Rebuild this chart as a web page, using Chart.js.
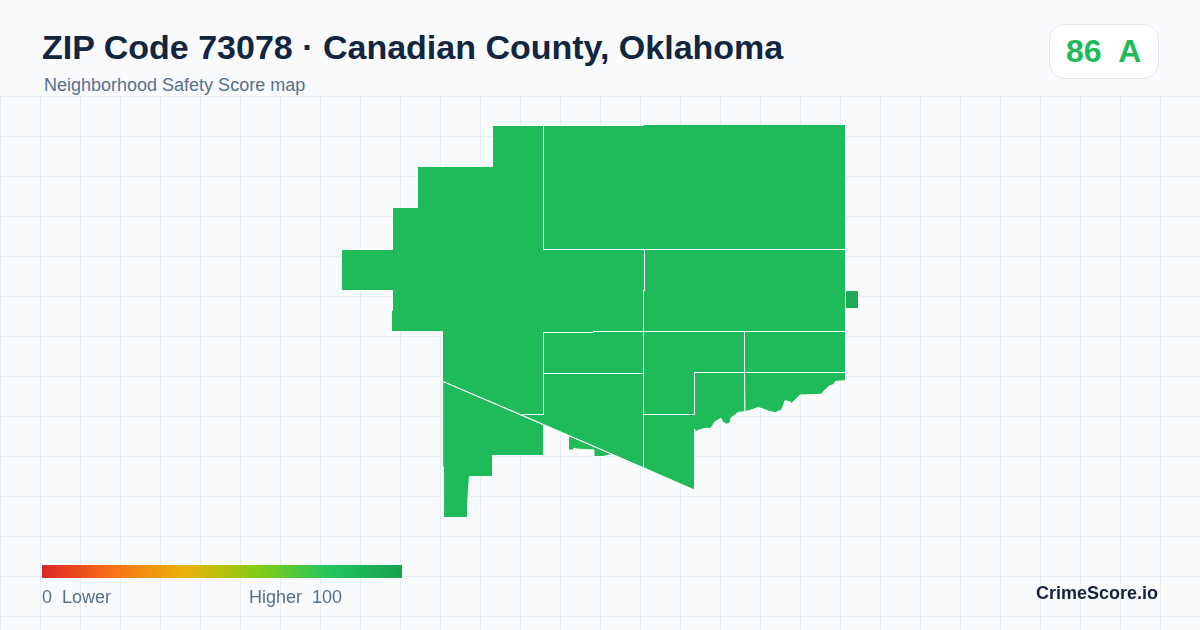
<!DOCTYPE html>
<html>
<head>
<meta charset="utf-8">
<title>ZIP Code 73078</title>
<script src="https://cdn.jsdelivr.net/npm/chart.js@4"></script>
<style>
	html, body { margin: 0; padding: 0; width: 1200px; height: 630px; overflow: hidden; background: #f8fafc; font-family: "Liberation Sans", Arial, sans-serif; }
	#mapBox { position: absolute; left: 0; top: 96px; width: 1200px; height: 534px; }
	.txt { position: absolute; white-space: pre; line-height: 1; }
	#title { left: 42px; top: 30px; font-size: 34px; font-weight: bold; color: #12263f; }
	#subtitle { left: 44px; top: 76px; font-size: 18px; color: #56708f; }
	#badge { position: absolute; left: 1049px; top: 24px; width: 108px; height: 53px; background: #fff; border: 1px solid #e2e8f0; border-radius: 16px; }
	#badgeText { left: 1066px; top: 35px; font-size: 32px; font-weight: bold; color: #1fbb59; }
	#scaleBar { position: absolute; left: 42px; top: 565px; width: 360px; height: 13px; }
	#scaleLow { left: 42px; top: 588px; font-size: 18px; color: #56708f; }
	#scaleHigh { left: 249px; top: 588px; font-size: 18px; color: #56708f; }
	#brand { right: 42px; top: 584px; font-size: 18px; font-weight: bold; color: #14233c; }
</style>
</head>
<body>
<div id="mapBox"><canvas id="map" width="1200" height="534"></canvas></div>
<div class="txt" id="title"></div>
<div class="txt" id="subtitle"></div>
<div id="badge"></div>
<div class="txt" id="badgeText"></div>
<div id="scaleBar"></div>
<div class="txt" id="scaleLow"></div>
<div class="txt" id="scaleHigh"></div>
<div class="txt" id="brand"></div>
<script>
var titleText = 'ZIP Code 73078 · Canadian County, Oklahoma';
var subtitleText = 'Neighborhood Safety Score map';
var scoreText = '86  A';
var lowLabel = '0  Lower';
var highLabel = 'Higher  100';
var brandText = 'CrimeScore.io';
var scaleColors = ['#dc2626', '#f97316', '#eab308', '#84cc16', '#22c55e', '#16a34a'];

// block outlines in map units, [east, north]
var blockWest = [[4.925,5.045],[5.435,5.045],[5.435,3.805],[6.445,3.805],[6.445,3.395],[6.435,3.395],[6.435,2.985],[5.935,2.985],[5.935,2.975],[5.435,2.975],[5.435,2.155],[5.205,2.155],[4.427,2.487],[4.425,2.985],[3.915,2.985],[3.915,3.195],[3.925,3.195],[3.925,3.395],[3.415,3.395],[3.415,3.805],[3.925,3.805],[3.925,4.225],[4.175,4.225],[4.175,4.635],[4.925,4.635],[4.925,5.045]];
var blockNorth = [[5.435,5.045],[6.435,5.045],[6.435,5.055],[8.455,5.055],[8.455,3.805],[5.435,3.805],[5.435,5.045]];
var blockEast = [[6.445,3.805],[8.455,3.805],[8.455,2.985],[6.435,2.985],[6.435,3.395],[6.445,3.395],[6.445,3.805]];
var blockCentreUpper = [[5.435,2.975],[5.935,2.975],[5.935,2.985],[6.435,2.985],[6.435,2.565],[5.435,2.565],[5.435,2.975]];
var blockCentreLower = [[5.435,2.565],[6.435,2.565],[6.435,1.622],[5.205,2.155],[5.435,2.155],[5.435,2.565]];
var blockSouthWest = [[4.427,2.487],[5.435,2.052],[5.435,1.745],[4.925,1.745],[4.925,1.535],[4.695,1.535],[4.685,1.42],[4.675,1.23],[4.675,1.125],[4.435,1.125],[4.435,1.63],[4.425,1.63],[4.427,2.487]];
var blockSliver = [[5.685,1.945],[6.125,1.755],[6.03,1.735],[5.94,1.735],[5.94,1.80],[5.77,1.81],[5.74,1.82],[5.74,1.80],[5.685,1.80],[5.685,1.945]];
var blockMiddle = [[6.435,2.985],[7.445,2.985],[7.445,2.575],[6.945,2.575],[6.945,2.155],[6.435,2.155],[6.435,2.985]];
var blockNorthEast = [[7.445,2.985],[8.455,2.985],[8.455,2.575],[7.445,2.575],[7.445,2.985]];
var blockRiverEast = [[7.445,2.575],[8.455,2.575],[8.455,2.493],[8.357,2.487],[8.333,2.453],[8.29,2.44],[8.21,2.357],[8.00,2.35],[7.917,2.267],[7.90,2.283],[7.85,2.293],[7.817,2.20],[7.75,2.173],[7.683,2.19],[7.583,2.227],[7.533,2.207],[7.45,2.183],[7.445,2.575]];
var blockRiverSouth = [[6.945,2.575],[7.445,2.575],[7.45,2.183],[7.383,2.177],[7.307,2.117],[7.30,2.073],[7.267,2.057],[7.223,2.083],[7.21,2.117],[7.15,2.083],[7.11,2.017],[7.05,2.017],[6.99,2.00],[6.96,1.983],[6.945,2.007],[6.945,1.40],[6.435,1.622],[6.435,2.155],[6.945,2.155],[6.945,2.575]];
var blockIsland = [[8.455,3.395],[8.585,3.395],[8.585,3.215],[8.455,3.215],[8.455,3.395]];

var mapBlocks = [blockWest, blockNorth, blockEast, blockCentreUpper, blockCentreLower, blockSouthWest, blockSliver, blockMiddle, blockNorthEast, blockRiverEast, blockRiverSouth, blockIsland];

document.getElementById('title').textContent = titleText;
document.getElementById('subtitle').textContent = subtitleText;
document.getElementById('badgeText').textContent = scoreText;
document.getElementById('scaleLow').textContent = lowLabel;
document.getElementById('scaleHigh').textContent = highLabel;
document.getElementById('brand').textContent = brandText;
document.getElementById('scaleBar').style.background = 'linear-gradient(90deg, ' + scaleColors.join(', ') + ')';

var toPoints = function(block) {
	return block.map(function(p) {
		return { x: p[0], y: p[1] };
	});
};

var datasets = mapBlocks.map(function(block) {
	return {
		data: toPoints(block),
		showLine: true,
		fill: 'shape',
		backgroundColor: block === blockIsland ? '#1cab54' : '#1fbb59',
		borderColor: '#f8fafc',
		borderWidth: 1,
		pointRadius: 0,
		tension: 0
	};
});

// background grid, one line every 0.4 map units, offset to sit on whole pixels
var gridTicks = function(start, end) {
	var ticks = [];
	for (var v = start; v < end; v += 0.4) {
		ticks.push({ value: v });
	}
	return ticks;
};

var gridOptions = { color: '#e7eef2', lineWidth: 1, drawTicks: false };

new Chart(document.getElementById('map').getContext('2d'), {
	type: 'scatter',
	data: { datasets: datasets },
	options: {
		responsive: false,
		animation: false,
		layout: { padding: 0 },
		plugins: { legend: { display: false }, tooltip: { enabled: false } },
		scales: {
			x: {
				type: 'linear', min: 0, max: 12,
				grid: gridOptions,
				border: { display: false },
				ticks: { display: false },
				afterFit: function(scale) { scale.height = 0; },
				afterBuildTicks: function(scale) { scale.ticks = gridTicks(0.005, 12); }
			},
			y: {
				type: 'linear', min: 0, max: 5.34,
				grid: gridOptions,
				border: { display: false },
				ticks: { display: false },
				afterFit: function(scale) { scale.width = 0; },
				afterBuildTicks: function(scale) { scale.ticks = gridTicks(0.135, 5.34); }
			}
		}
	}
});
</script>
</body>
</html>
